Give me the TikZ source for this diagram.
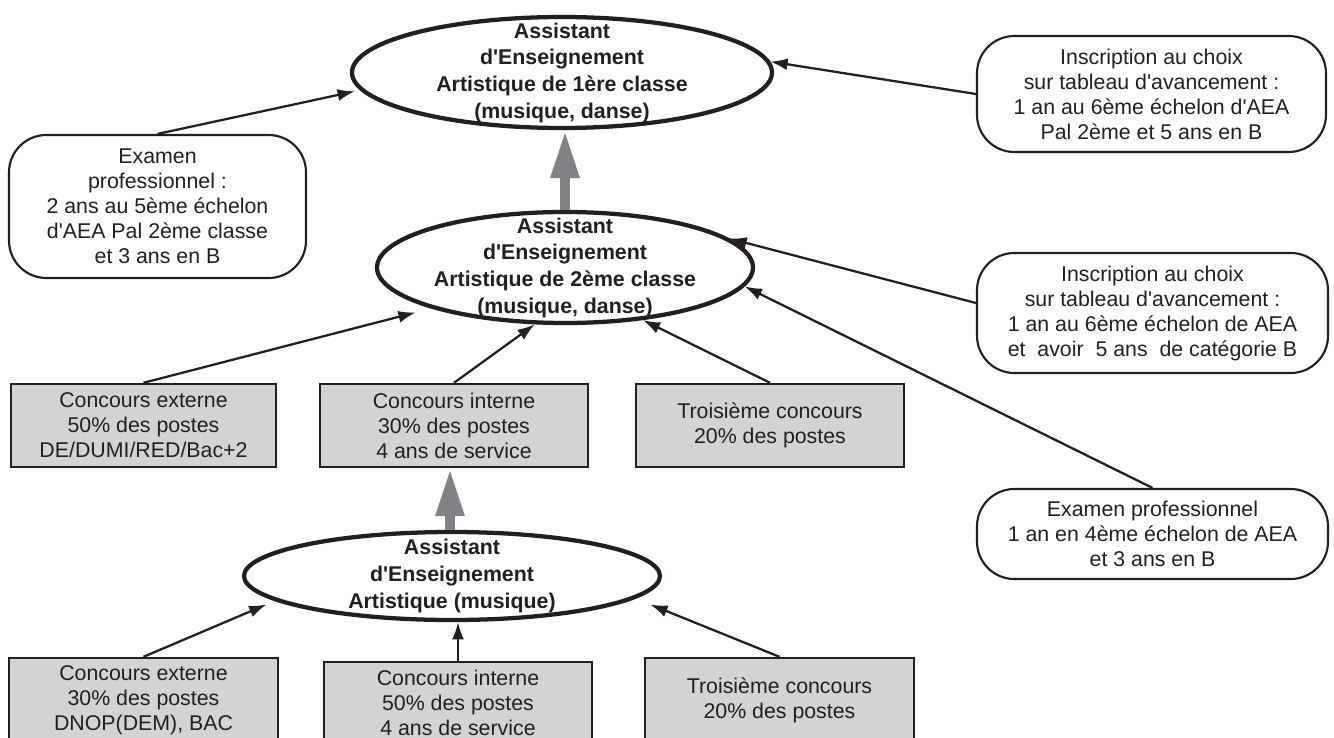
\documentclass[tikz,border=0pt]{standalone}
\usepackage{fontspec}
\setmainfont{Liberation Sans}[Ligatures=TeXOff]
\usetikzlibrary{arrows.meta,shapes.geometric}
\definecolor{ink}{HTML}{231F20}
\definecolor{boxgray}{HTML}{D1D3D4}
\definecolor{arrgray}{HTML}{808285}
\begin{document}
\begin{tikzpicture}[x=0.75pt,y=-0.75pt,
  txt/.style={font=\fontsize{16}{18.75}\selectfont, align=center, text=ink},
  oval/.style={ellipse, draw=ink, line width=3.2pt, fill=white, inner sep=0pt},
  ovaltext/.style={font=\bfseries\fontsize{16}{20}\selectfont, align=center, text=ink, inner sep=0pt},
  graybox/.style={rectangle, draw=ink, line width=1.8pt, fill=boxgray, inner sep=0pt, txt},
  roundbox/.style={rectangle, rounded corners=28pt, draw=ink, line width=1.6pt, fill=white, inner sep=0pt, txt},
  conn/.style={draw=ink, line width=1.7pt, -{Latex[length=13pt,width=9pt]}},
  bigarrow/.style={draw=arrgray, line width=7.5pt, -{Triangle[length=36pt,width=20pt]}}
]
\path[use as bounding box, fill=white] (0,0) rectangle (1334,738);
\clip (0,0) rectangle (1334,738);

% ellipses
\node[oval, minimum width=315pt, minimum height=83.25pt,
  label={[ovaltext]center:{Assistant\\d'Enseignement\\Artistique de 1ère classe\\(musique, danse)}}]
  (E1) at (562,72.5) {};
\node[oval, minimum width=282pt, minimum height=83.25pt,
  label={[ovaltext]center:{Assistant\\d'Enseignement\\Artistique de 2ème classe\\(musique, danse)}}]
  (E2) at (565,267.5) {};
\node[oval, minimum width=312pt, minimum height=66pt,
  label={[ovaltext]center:{Assistant\\d'Enseignement\\Artistique (musique)}}]
  (E3) at (452,576) {};

% rounded boxes
\node[roundbox, minimum width=222.75pt, minimum height=107.25pt] (G) at (157.5,206.5)
  {Examen\\professionnel :\\2 ans au 5ème échelon\\d'AEA Pal 2ème classe\\et 3 ans en B};
\node[roundbox, minimum width=261.75pt, minimum height=87pt] (H) at (1151.5,94)
  {Inscription au choix\\sur tableau d'avancement :\\1 an au 6ème échelon d'AEA\\Pal 2ème et 5 ans en B};
\node[roundbox, minimum width=263.25pt, minimum height=90pt] (I) at (1152.5,313)
  {Inscription au choix\\sur tableau d'avancement :\\1 an au 6ème échelon de AEA\\et\ \ avoir\ \ 5 ans\ \ de catégorie B};
\node[roundbox, minimum width=263.25pt, minimum height=67.5pt] (J) at (1152.5,534)
  {Examen professionnel\\1 an en 4ème échelon de AEA\\et 3 ans en B};

% gray boxes, first row
\node[graybox, minimum width=198.75pt, minimum height=62.25pt] (A) at (143.5,425.5)
  {Concours externe\\50\% des postes\\DE/DUMI/RED/Bac+2};
\node[graybox, minimum width=201pt, minimum height=62.25pt] (B) at (454,425.5)
  {Concours interne\\30\% des postes\\4 ans de service};
\node[graybox, minimum width=201pt, minimum height=62.25pt] (C) at (770,425.5)
  {Troisième concours\\20\% des postes};

% gray boxes, second row
\node[graybox, minimum width=201.75pt, minimum height=63pt] (D) at (143.5,700)
  {Concours externe\\30\% des postes\\DNOP(DEM), BAC};
\node[graybox, minimum width=201pt, minimum height=61.5pt] (E) at (458,703)
  {Concours interne\\50\% des postes\\4 ans de service};
\node[graybox, minimum width=201.75pt, minimum height=63pt] (F) at (779.5,700)
  {Troisième concours\\20\% des postes};

% big gray arrows
\draw[bigarrow] (E2.north) -- (E2.north |- E1.south);
\draw[bigarrow] ([xshift=-1.5pt]E3.north) -- ([xshift=-1.5pt]E3.north |- B.south);

% connectors
\draw[conn, shorten >=4pt] (G.north) -- (E1.185);
\draw[conn] (H.west) -- (E1.3);
\draw[conn] ([yshift=7.5pt]I.west) -- (E2.10);
\draw[conn] (J.north) -- (E2.-6);
\draw[conn, shorten >=12pt] (A.north) -- (E2.197);
\draw[conn] (B.north) -- (E2.242);
\draw[conn] (C.north) -- (E2.-34);
\draw[conn, shorten >=7pt] (D.north) -- (E3.188);
\draw[conn] (E.north) -- (E.north |- E3.south);
\draw[conn, shorten >=12pt] (F.north) -- (E3.-7);
\end{tikzpicture}
\end{document}
